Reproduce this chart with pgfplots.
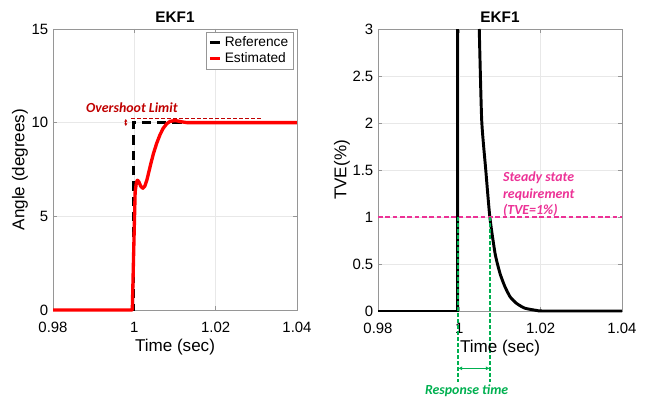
\documentclass[border=0pt]{standalone}
\usepackage{fontspec}
\setmainfont{Liberation Sans}
\newfontfamily\calibri{Carlito}
\usepackage{pgfplots}
\pgfplotsset{compat=1.18}
\usetikzlibrary{arrows.meta}
\definecolor{ovred}{RGB}{192,0,0}
\definecolor{tvepink}{RGB}{236,50,150}
\definecolor{rgreen}{RGB}{0,176,80}
\definecolor{axgray}{RGB}{150,150,150}
\pgfplotsset{
 myaxis/.style={
  scale only axis, width=183pt,
  xmin=0.98, xmax=1.04, xtick={0.98,1,1.02,1.04}, xticklabels={0.98,1,1.02,1.04},
  grid=major, grid style={gray!18, line width=0.4pt},
  axis line style={axgray, line width=0.6pt}, tick style={axgray, line width=0.5pt},
  tick align=inside, major tick length=3pt,
  /pgf/number format/assume math mode=true,
  tick label style={font=\fontsize{11.2}{13}\selectfont},
  xticklabel style={yshift=-5.5pt},
  label style={font=\fontsize{12.8}{14}\selectfont},
  xlabel style={at={(axis description cs:0.5,-0.1317)}, anchor=center},
  title style={font=\bfseries\fontsize{11.5}{13}\selectfont, at={(0.5,1)}, anchor=south, yshift=-4.5pt},
  clip=false,
 }
}
\begin{document}
\begin{tikzpicture}
\useasboundingbox (0,0) rectangle (487.5pt,297.75pt);
% ---------- Left plot ----------
\begin{axis}[myaxis, at={(39.75pt,65.25pt)}, anchor=south west, height=210.75pt,
  ymin=0, ymax=15, ytick={0,5,10,15},
  title={EKF1}, xlabel={Time (sec)}, ylabel={Angle (degrees)},
  ylabel style={at={(axis description cs:-0.135,0.5)}, anchor=center},
  legend style={at={(rel axis cs:0.984,0.99)}, anchor=north east, draw=axgray,
    font=\fontsize{10.3}{12}\selectfont, inner sep=1.5pt, row sep=-1pt,
    cells={anchor=west}},
  legend image code/.code={\draw[#1, solid] (0pt,0pt) -- (8pt,0pt);}]
\addplot[black, line width=2.2pt, dash pattern=on 7pt off 4.5pt] coordinates {
 (0.98,0) (0.9997,0) (0.9997,10) (1.04,10)};
\addlegendentry{Reference}
\addplot[red, line width=2.5pt, line join=round] coordinates {
 (0.98,0) (0.9995,0) (0.99985,3.2) (1.0002,6.3) (1.0005,6.8) (1.00075,6.93)
 (1.0011,6.85) (1.0016,6.6) (1.0021,6.5) (1.0026,6.62) (1.0031,6.95) (1.0036,7.4)
 (1.0041,7.85) (1.0047,8.35) (1.0055,8.9) (1.0063,9.35) (1.0071,9.7) (1.0080,9.95)
 (1.0088,10.07) (1.0096,10.1) (1.0104,10.1) (1.0115,10.05) (1.013,10.0) (1.04,10)};
\addlegendentry{Estimated}
\draw[ovred, line width=0.8pt, dash pattern=on 3pt off 1.5pt] (axis cs:0.9992,10.2) -- (axis cs:1.0316,10.2);
\draw[ovred, line width=0.6pt, {Latex[length=2pt,width=2.5pt]}-{Latex[length=2pt,width=2.5pt]}] (axis cs:0.9979,9.82) -- (axis cs:0.9979,10.2);
\node[ovred, font=\calibri\bfseries\itshape\fontsize{10.4}{12}\selectfont] at (axis cs:0.9994,10.8) {Overshoot Limit};
\end{axis}
% ---------- Right plot ----------
\begin{axis}[myaxis, at={(283.5pt,64.5pt)}, anchor=south west, height=211.5pt,
  ymin=0, ymax=3, ytick={0,0.5,1,1.5,2,2.5,3}, yticklabels={0,0.5,1,1.5,2,2.5,3},
  title={EKF1}, xlabel={Time (sec)}, ylabel={TVE(\%)},
  ylabel style={at={(axis description cs:-0.1475,0.5)}, anchor=center}]
\addplot[black, line width=2.2pt] coordinates {(0.98,0) (0.9996,0) (0.9996,3)};
\addplot[black, line width=2.2pt, smooth, tension=0.35] coordinates {
 (1.0049,3) (1.0055,2.03) (1.0065,1.5) (1.0075,1.0) (1.0088,0.61) (1.0100,0.40)
 (1.0112,0.26) (1.0125,0.15) (1.0141,0.08) (1.0161,0.03) (1.019,0.006) (1.021,0) (1.04,0)};
\draw[tvepink, line width=0.9pt, dash pattern=on 3.5pt off 2pt] (axis cs:0.98,1) -- (axis cs:1.04,1);
\node[tvepink, anchor=west, align=left, font=\calibri\bfseries\itshape\fontsize{10.4}{12.5}\selectfont]
  at (axis cs:1.0096,1.24) {Steady state\\requirement\\(TVE=1\%)};
\draw[rgreen, line width=1pt, dash pattern=on 3pt off 1.5pt] (axis cs:0.9997,1) -- (axis cs:0.9997,-0.752);
\draw[rgreen, line width=1pt, dash pattern=on 3pt off 1.5pt] (axis cs:1.0075,1) -- (axis cs:1.0075,-0.752);
\draw[rgreen, line width=1pt, {Latex[length=3pt,width=3pt]}-{Latex[length=3pt,width=3pt]}] (axis cs:0.9997,-0.61) -- (axis cs:1.0075,-0.61);
\node[rgreen, font=\calibri\bfseries\itshape\fontsize{10.4}{12}\selectfont] at (axis cs:1.0018,-0.85) {Response time};
\end{axis}
\end{tikzpicture}
\end{document}
